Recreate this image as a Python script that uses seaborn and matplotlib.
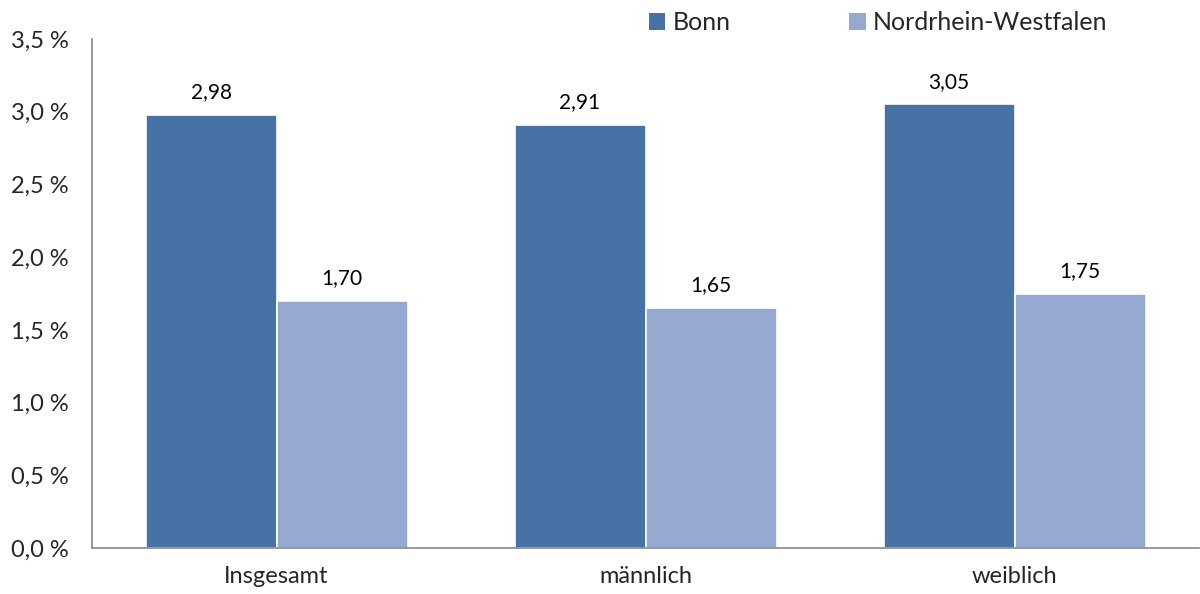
import matplotlib
matplotlib.use("Agg")
import matplotlib.pyplot as plt
import seaborn as sns
import pandas as pd
from matplotlib.patches import Patch
from matplotlib.ticker import FuncFormatter

categories = ["Insgesamt", "männlich", "weiblich"]
series = ["Bonn", "Nordrhein-Westfalen"]
bonn = [2.98, 2.91, 3.05]
nrw = [1.70, 1.65, 1.75]
colors = ["#4672A6", "#95A9D0"]

rows = []
for c, b, n in zip(categories, bonn, nrw):
    rows.append({"Kategorie": c, "Gebiet": series[0], "Wert": b})
    rows.append({"Kategorie": c, "Gebiet": series[1], "Wert": n})
df = pd.DataFrame(rows)

sns.set_style("white")
plt.rcParams["font.family"] = ["Lato", "DejaVu Sans"]

fig = plt.figure(figsize=(12, 5.94), dpi=100)
ax = fig.add_axes([0.0767, 0.0774, 0.9225, 0.8569])

sns.barplot(data=df, x="Kategorie", y="Wert", hue="Gebiet", order=categories,
            hue_order=series, palette=colors, width=0.71, saturation=1,
            edgecolor="white", linewidth=1.2, ax=ax, legend=False)

for cont in ax.containers:
    labels = [f"{v:.2f}".replace(".", ",") for v in cont.datavalues]
    ax.bar_label(cont, labels=labels, padding=9, fontsize=15, color="#000000")

ax.set_xlim(-0.5, 2.5)
ax.set_ylim(0, 3.5)
ax.set_yticks([0, 0.5, 1, 1.5, 2, 2.5, 3, 3.5])
ax.yaxis.set_major_formatter(FuncFormatter(lambda v, p: f"{v:.1f} %".replace(".", ",")))
ax.set_xticks(range(3))
ax.set_xticklabels(categories)
ax.set_xticks([0.5, 1.5], minor=True)
ax.tick_params(axis="x", which="major", length=0, pad=13, labelsize=17)
ax.tick_params(axis="x", which="minor", length=5, width=1.2, color="#868686", direction="out")
ax.tick_params(axis="y", which="major", length=5, width=1.2, color="#868686", direction="out",
               labelsize=17, pad=12)
ax.set_xlabel("")
ax.set_ylabel("")
for s in ["top", "right"]:
    ax.spines[s].set_visible(False)
for s in ["left", "bottom"]:
    ax.spines[s].set_color("#868686")
    ax.spines[s].set_linewidth(1.2)

handles = [Patch(facecolor=colors[0], edgecolor="none"),
           Patch(facecolor=colors[1], edgecolor="none")]
fig.legend(handles, series, loc="center left", bbox_to_anchor=(0.522, 0.962), ncol=2,
           frameon=False, fontsize=18, handlelength=0.65, handleheight=0.65,
           handletextpad=0.3, columnspacing=4.75)

fig.savefig("out.png", dpi=100)
